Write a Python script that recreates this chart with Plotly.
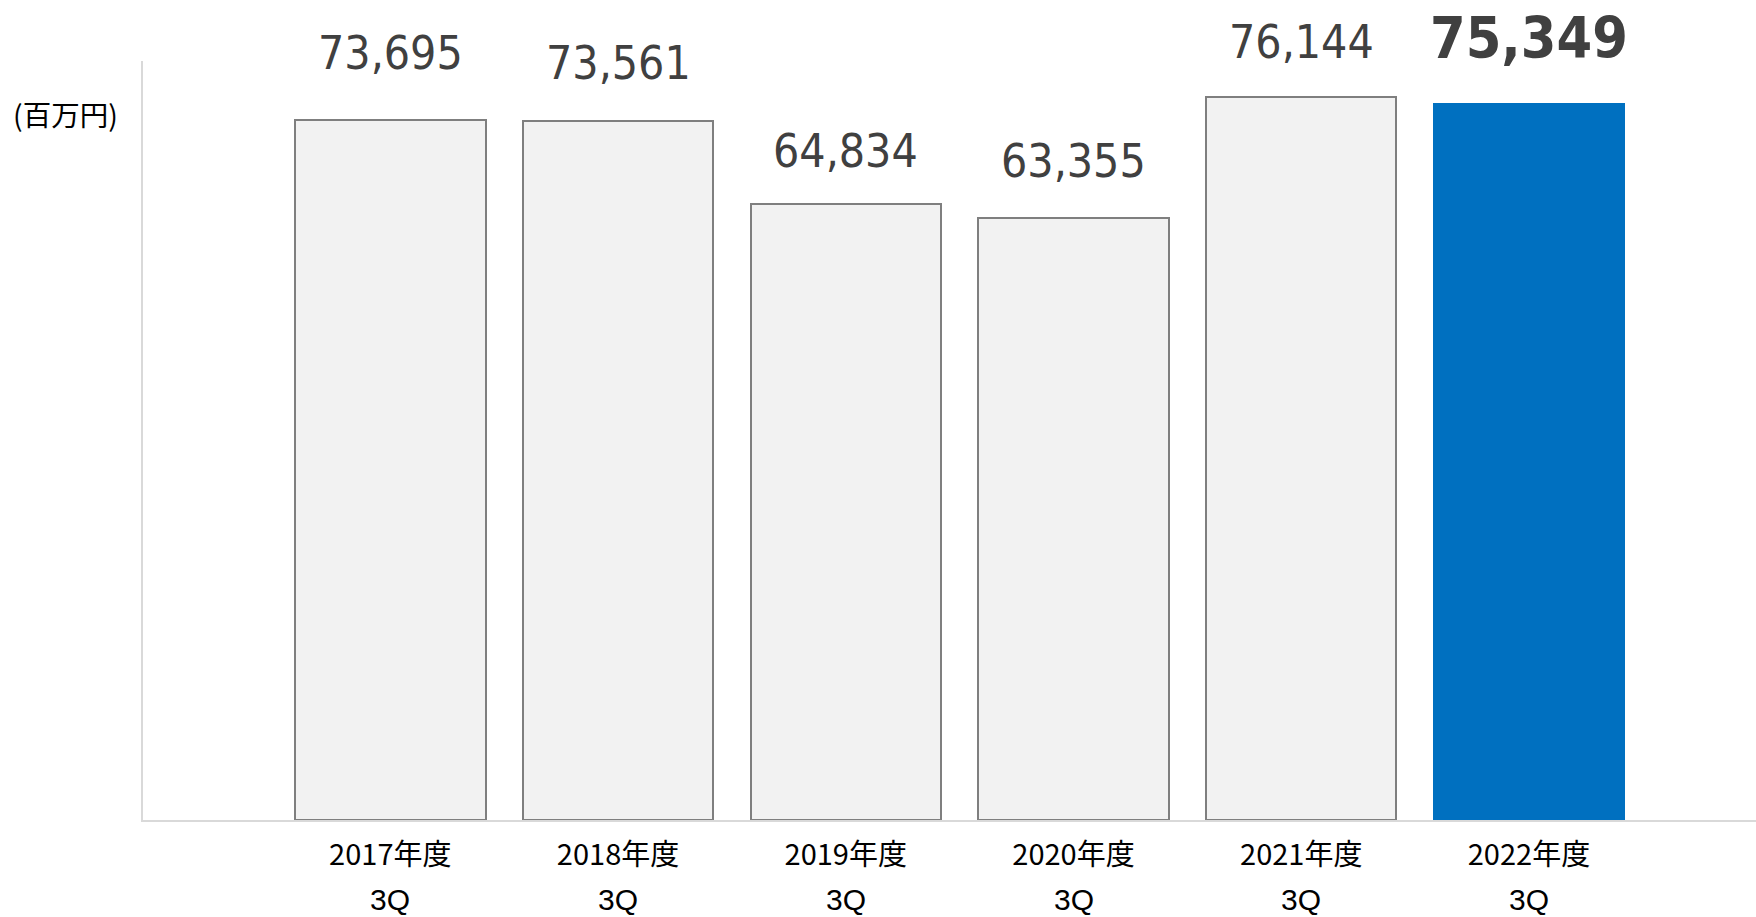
import plotly.graph_objects as go

categories = ["2017年度", "2018年度", "2019年度", "2020年度", "2021年度", "2022年度"]
quarter_labels = ["3Q", "3Q", "3Q", "3Q", "3Q", "3Q"]
values = [73695, 73561, 64834, 63355, 76144, 75349]
unit_label = "(百万円)"

# styling (not data)
fill_colors = ["#F2F2F2"] * 5 + ["#0070C0"]
line_colors = ["#7F7F7F"] * 5 + ["#0070C0"]
label_shift = [67, 58, 53, 57, 55, 66]
label_bold = [False] * 5 + [True]

num_font = "DejaVu Sans Condensed, DejaVu Sans, sans-serif"
jp_font = "Noto Sans CJK JP, sans-serif"
q_font = "Liberation Sans, Arial, sans-serif"

x_idx = list(range(len(categories)))

fig = go.Figure()
fig.add_trace(go.Bar(
    x=x_idx,
    y=values,
    width=0.836,
    marker=dict(color=fill_colors, line=dict(color=line_colors, width=2)),
    hoverinfo="skip",
    showlegend=False,
))

annotations = []
for i, v in enumerate(values):
    txt = f"{v:,}"
    annotations.append(dict(
        x=i, y=v, xref="x", yref="y",
        text=f"<b>{txt}</b>" if label_bold[i] else txt,
        showarrow=False, xanchor="center", yanchor="middle",
        yshift=label_shift[i],
        font=dict(family=num_font, size=57 if label_bold[i] else 46, color="#404040"),
    ))
    annotations.append(dict(
        x=i, y=0, xref="x", yref="paper",
        text=quarter_labels[i],
        showarrow=False, xanchor="center", yanchor="middle",
        yshift=-79, borderpad=0,
        font=dict(family=q_font, size=30, color="#000000"),
    ))

fig.update_layout(
    width=1756, height=917,
    margin=dict(l=143, r=0, t=61, b=97, pad=0),
    paper_bgcolor="white", plot_bgcolor="white",
    bargap=0,
    xaxis=dict(
        range=[-1.086, 5.997],
        tickmode="array", tickvals=x_idx, ticktext=categories,
        showline=True, linecolor="#D9D9D9", linewidth=2,
        showgrid=False, zeroline=False, ticks="",
        tickfont=dict(family=jp_font, size=29, color="#000000"),
        ticklabelstandoff=8,
        fixedrange=True,
    ),
    yaxis=dict(
        range=[0, 79900],
        showline=True, linecolor="#D9D9D9", linewidth=2,
        showgrid=False, zeroline=False, showticklabels=False, ticks="",
        fixedrange=True,
    ),
    annotations=annotations,
)

# unit label in paper coords: left edge ~12px, center y ~114px
plot_w = 1756 - 143
plot_h = 917 - 61 - 97
fig.add_annotation(
    x=(11 - 143) / plot_w, y=(917 - 97 - 114) / plot_h,
    xref="paper", yref="paper",
    text=unit_label, showarrow=False,
    xanchor="left", yanchor="middle",
    font=dict(family=jp_font, size=28.5, color="#000000"),
)

fig.write_html(
    "out.html",
    config={"displayModeBar": False},
    post_script="document.body.style.margin='0';document.body.style.overflow='hidden';",
)
